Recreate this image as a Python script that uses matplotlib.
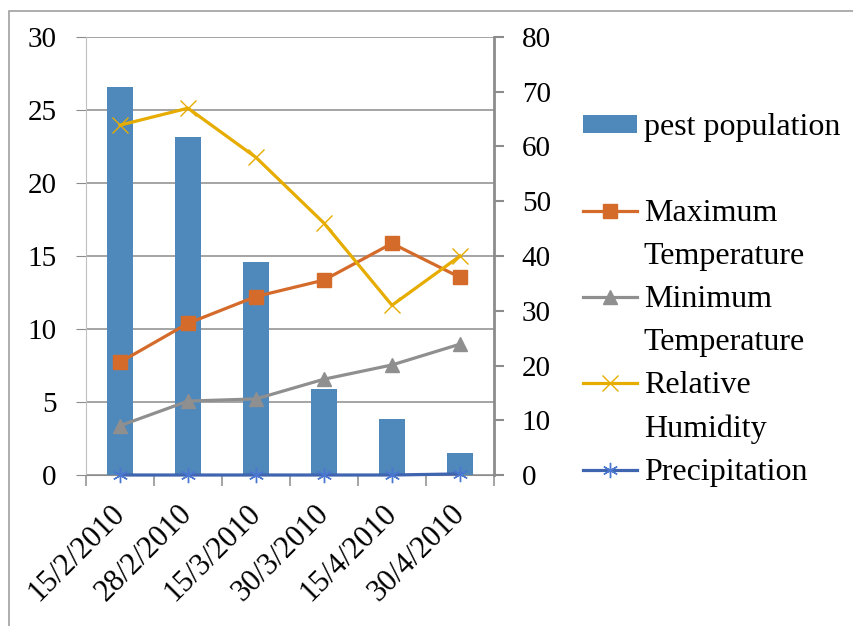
import matplotlib
matplotlib.use("Agg")
import matplotlib.pyplot as plt
from matplotlib.lines import Line2D
from matplotlib.patches import Rectangle

dates = ['15/2/2010', '28/2/2010', '15/3/2010', '30/3/2010', '15/4/2010', '30/4/2010']
pest_population = [26.6, 23.15, 14.6, 5.9, 3.85, 1.5]
max_temp = [20.6, 27.7, 32.6, 35.6, 42.3, 36.1]
min_temp = [9.0, 13.5, 13.9, 17.5, 20.1, 23.9]
rel_humidity = [63.9, 67.0, 58.0, 46.0, 31.0, 40.0]
precipitation = [0, 0, 0, 0, 0, 0.2]

plt.rcParams['font.family'] = ['Liberation Serif', 'DejaVu Serif']
fs = 21
grey = '#8c8c8c'

fig = plt.figure(figsize=(8.54, 6.26), dpi=100)
ax = fig.add_axes([86/854, 1 - 475/626, 408/854, 438/626])
ax2 = ax.twinx()

x = list(range(len(dates)))
bars = ax.bar(x, pest_population, width=0.39, color='#4f88bb', zorder=2)
ax.set_ylim(0, 30)
ax.set_yticks(range(0, 31, 5))
ax.set_xlim(-0.5, 5.5)
ax.set_axisbelow(True)
ax.yaxis.grid(True, color=grey, linewidth=1.1)

l_max, = ax2.plot(x, max_temp, color='#d46b2a', lw=2.3, marker='s', ms=10)
l_min, = ax2.plot(x, min_temp, color='#8f8f8f', lw=2.3, marker='^', ms=10.5)
l_rh, = ax2.plot(x, rel_humidity, color='#e6ac00', lw=2.3, marker='x', ms=11,
                 mew=1.0)
l_pr, = ax2.plot(x, precipitation, color='#3f64b0', lw=2.3, marker=(6, 2, 0),
                 ms=11, mew=1.0, mec='#4a78d0', clip_on=False)
ax2.set_ylim(0, 80)
ax2.set_yticks(range(0, 81, 10))

# axes styling
for a in (ax, ax2):
    a.spines['top'].set_visible(False)
ax.spines['left'].set_color('#c0c0c0')
ax.spines['bottom'].set_color(grey)
ax.spines['right'].set_visible(False)
ax2.spines['left'].set_visible(False)
ax2.spines['bottom'].set_visible(False)
ax2.spines['right'].set_color(grey)
ax2.spines['right'].set_linewidth(2)

ax.set_xticks(x)
ax.set_xticklabels(dates, rotation=45, ha='right', va='center',
                   rotation_mode='anchor', fontsize=22)
ax.set_xticks([i - 0.5 for i in range(len(dates) + 1)], minor=True)
ax.tick_params(axis='x', which='major', length=0, pad=25)
ax.tick_params(axis='x', which='minor', length=8, color=grey, width=1.1)
ax.tick_params(axis='y', length=7, color=grey, pad=14, labelsize=fs)
ax2.tick_params(axis='y', length=7, color=grey, width=1.5, pad=13, labelsize=fs)

# legend, second lines of labels as blank entries
blank = Line2D([], [], color='none')
handles = [bars, blank, l_max, blank, l_min, blank, l_rh, blank, l_pr]
labels = ['pest population', ' ', 'Maximum', 'Temperature', 'Minimum',
          'Temperature', 'Relative', 'Humidity', 'Precipitation']
fig.legend(handles, labels, loc='upper left', bbox_to_anchor=(583/854, 1 - 113/626),
           frameon=False, fontsize=23, handlelength=1.7, handletextpad=0.2,
           handleheight=0.5, labelspacing=0.44, borderpad=0, borderaxespad=0)

# outer chart frame
fig.patches.append(Rectangle((9/854, -0.2), 2, 1.2 - 11/626, fill=False,
                             edgecolor='#a0a0a0', lw=1.2, transform=fig.transFigure))

fig.savefig('out.png', dpi=100)
